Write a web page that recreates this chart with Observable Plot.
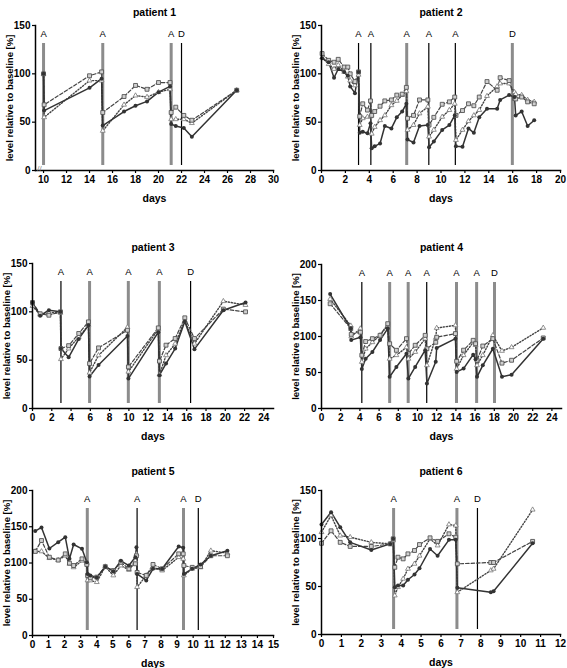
<!DOCTYPE html>
<html>
<head>
<meta charset="utf-8">
<script src="https://cdn.jsdelivr.net/npm/d3@7"></script>
<script src="https://cdn.jsdelivr.net/npm/@observablehq/plot@0.6"></script>
<style>
  html, body { margin: 0; padding: 0; background: #fff; }
  #chart { position: relative; width: 567px; height: 668px; overflow: hidden; background: #fff; }
  .panel { position: absolute; }
</style>
</head>
<body>
<div id="chart"></div>
<script>
// ---------- data ----------
const titles = ["patient 1", "patient 2", "patient 3", "patient 4", "patient 5", "patient 6"];

// patient 1
const p1Days   = [10, 10.05, 14, 15.05, 15.15, 17, 18, 19, 20, 21, 21.1, 21.5, 22.2, 22.9, 26.8];
const p1Solid  = [100, 62, 85.5, 95, 46.5, 61, 67, 71.5, 81, 87, 48, 46, 44, 35, 83];
const p1Dashed = [100, 68, 98, 102, 60, 76.5, 88, 84, 91, 91, 60, 65.5, 57, 52, 83];
const p1Dotted = [100, 55, 93, 93, 41, 68, 77.5, 76, 81, 84, 53, 53, 53, 49, 83];
const p1Events = [10, 15.15, 21.1, 22];
const p1Labels = ["A", "A", "A", "D"];
const p1Gray   = [1, 1, 1, 0];

// patient 2
const p2Days   = [0.05, 0.6, 1.05, 1.4, 1.9, 2.2, 2.4, 2.8, 3.1, 3.2, 3.45, 3.85, 4.1, 4.2, 4.45, 4.9, 5.3, 5.85, 6.3, 6.75, 7.1, 7.2, 7.7, 8.2, 8.9, 9.0, 9.4, 10.1, 10.7, 11.15, 11.25, 11.8, 12.3, 12.75, 13.2, 13.85, 14.7, 14.95, 15.7, 16.15, 16.25, 16.75, 17.25, 17.8];
const p2Solid  = [116, 112, 96, 105, 102, 98, 87, 80, 102, 39, 40, 38.5, 49, 23, 25, 28, 46, 43.5, 55, 61, 69, 32, 29, 46, 47, 24, 30, 42, 47, 57, 25, 24.5, 43.5, 39, 55, 64, 64, 73, 78, 76, 57, 61, 46, 52];
const p2Dashed = [121, 114, 112, 115, 107, 107, 100, 92, 102, 56, 69, 62.5, 72, 57, 61, 66.5, 72, 73, 78, 79, 86, 54, 57, 73, 73, 47, 55, 68.5, 71, 76, 57, 62, 69, 67, 76, 92, 83, 96, 93, 74.5, 74, 76, 71, 69];
const p2Dotted = [117, 110, 105, 109, 102, 97, 93, 88, 99, 47, 54, 55.5, 56, 38, 45, 52, 57, 67.5, 72, 78, 82, 42, 47, 59, 66, 35, 42, 55.5, 62.5, 69, 31.5, 42, 51, 57, 62.5, 77, 87, 90, 90, 81, 79, 78, 73, 71];
const p2Events = [3.1, 4.13, 7.13, 8.98, 11.2, 15.97];
const p2Labels = ["A", "A", "A", "A", "A", "D"];
const p2Gray   = [0, 0, 1, 0, 0, 1];

// patient 3
const p3Days   = [0, 0.8, 1.7, 2.9, 2.95, 3.75, 4.8, 5.8, 5.92, 6.85, 9.85, 9.95, 13.05, 13.17, 13.85, 14.8, 15.8, 16.8, 19.8, 22.1];
const p3Solid  = [109.6, 96, 101.7, 100, 62, 53, 72, 86, 33, 45, 75, 31, 79, 34.5, 46.5, 62, 90, 61.4, 101.7, 109.6];
const p3Dashed = [109.6, 98, 96.5, 100, 62, 65, 77.6, 89.6, 46.5, 62.7, 81, 43, 83.4, 49, 65.5, 72.4, 93.8, 72.4, 102.8, 100];
const p3Dotted = [106, 97, 99, 99, 51, 62, 74, 86, 37, 55, 84, 38, 82, 35, 55, 67, 91, 67, 111, 107];
const p3Events = [2.95, 5.92, 9.94, 13.16, 16.4];
const p3Labels = ["A", "A", "A", "A", "D"];
const p3Gray   = [0, 1, 1, 1, 0];

// patient 4
const p4Days   = [0.9, 3.05, 3.1, 4.05, 4.2, 4.6, 5.3, 6.1, 6.9, 7.1, 7.8, 8.85, 9.05, 9.76, 10.8, 10.98, 11.9, 12.0, 13.95, 14.08, 14.8, 15.8, 16.05, 16.2, 16.8, 17.85, 18.8, 19.8, 23.1];
const p4Solid  = [159, 111, 95, 99, 55, 69, 78.5, 95, 111, 44, 57.7, 76, 41.6, 57.7, 81, 34.6, 65, 84, 97, 50.8, 55.4, 74.8, 68.4, 44, 60, 83, 44, 47, 97];
const p4Dashed = [145.5, 111, 103, 106, 74, 93, 97, 101.6, 117.8, 90, 80.8, 97, 76, 87.8, 101.6, 83, 92, 99, 104, 65.6, 81, 94.7, 90, 67, 86.8, 97, 63, 67, 98];
const p4Dotted = [152, 115, 100, 111, 64.7, 83, 92, 101.6, 115.5, 69, 74, 85, 69, 78.5, 97, 60, 98, 111.8, 115.5, 55, 74, 92, 88, 60, 74, 101.6, 80, 85, 112];
const p4Events = [4.2, 7.1, 9.03, 10.96, 14.06, 16.16, 18.02];
const p4Labels = ["A", "A", "A", "A", "A", "A", "D"];
const p4Gray   = [0, 1, 1, 0, 1, 1, 1];

// patient 5
const p5Days   = [0.17, 0.56, 1.05, 1.6, 2.04, 2.3, 2.56, 3.08, 3.38, 3.43, 3.6, 4.0, 4.53, 5.03, 5.5, 6.0, 6.4, 6.47, 6.51, 7.08, 7.5, 8.07, 9.1, 9.38, 9.42, 9.94, 10.46, 11.1, 12.13];
const p5Solid  = [144, 149, 120, 128.7, 135.6, 105.7, 125.5, 119.5, 101, 85, 82.8, 80, 95, 88.7, 103, 96.5, 108, 121.8, 85, 75.9, 92, 92, 122.8, 121, 85, 92, 98, 110, 117];
const p5Dashed = [116, 131, 108, 104, 112.6, 99.8, 96.5, 105.7, 98, 82.8, 79.5, 80.5, 95, 89.6, 101, 92, 98.9, 110, 87, 82.8, 98, 92, 112.6, 112.6, 96.5, 94, 95, 110, 110];
const p5Dotted = [116, 116, 106.7, 104, 110, 98.9, 94, 103, 100, 75.9, 75.9, 73.6, 95, 82.8, 96.5, 90.6, 103, 112, 66.7, 82.8, 94, 89.6, 108, 105.7, 82.8, 92, 94, 117, 113.6];
const p5Events = [3.41, 6.51, 9.4, 10.32];
const p5Labels = ["A", "A", "A", "D"];
const p5Gray   = [1, 0, 1, 0];

// patient 6
const p6Days   = [0, 0.48, 0.94, 1.44, 2.5, 3.45, 3.6, 3.68, 3.84, 4.1, 4.34, 4.67, 4.92, 5.45, 5.83, 6.4, 6.74, 6.82, 8.5, 8.64, 10.6];
const p6Solid  = [114.6, 127.4, 111.8, 96, 88, 94.4, 99.7, 49.3, 51, 51, 57, 62.5, 69, 89, 82, 98.6, 98.6, 48.6, 44, 45, 95];
const p6Dashed = [95, 108, 96, 91.7, 91.7, 94.4, 99.7, 70, 80.5, 78.8, 84, 87.5, 93.7, 100.7, 97, 104.9, 101.4, 73.6, 75, 75, 97];
const p6Dotted = [106.6, 124, 103, 101.4, 96, 94.4, 98, 40.6, 49.3, 58, 68.4, 73.6, 82, 99.7, 92.7, 114.6, 113.5, 44, 66.7, 68.4, 130];
const p6Events = [3.62, 6.8, 7.83];
const p6Labels = ["A", "A", "D"];
const p6Gray   = [1, 1, 0];

// axis settings
const xDomains = [[9.3, 30], [0, 20], [0, 25], [0, 25], [0, 15], [0, 12]];
const xTickVals = [d3.range(10, 31, 2), d3.range(0, 21, 2), d3.range(0, 25, 2), d3.range(0, 25, 2), d3.range(0, 16, 1), d3.range(0, 13, 1)];
const yMax = [150, 150, 150, 200, 200, 150];
const yTickVals = [[0, 50, 100, 150], [0, 50, 100, 150], [0, 50, 100, 150], [0, 50, 100, 150, 200], [0, 50, 100, 150, 200], [0, 50, 100, 150]];

// ---------- layout (pixels) ----------
const layout = [
  {left: 0,   top: 0,   width: 283, ml: 35, mr: 10, mt: 25, fh: 145, mb: 45, titleDy: -13},
  {left: 283, top: 0,   width: 284, ml: 38, mr: 7,  mt: 25, fh: 145, mb: 45, titleDy: -13},
  {left: 0,   top: 238, width: 283, ml: 32, mr: 10, mt: 25, fh: 145, mb: 45, titleDy: -16},
  {left: 283, top: 239, width: 284, ml: 38, mr: 6,  mt: 25, fh: 144, mb: 45, titleDy: -17},
  {left: 0,   top: 465, width: 283, ml: 32, mr: 10, mt: 25, fh: 145, mb: 33, titleDy: -19},
  {left: 283, top: 465, width: 284, ml: 38, mr: 7,  mt: 25, fh: 144, mb: 34, titleDy: -19}
];

const panels = [
  [p1Days, p1Solid, p1Dashed, p1Dotted, p1Events, p1Labels, p1Gray],
  [p2Days, p2Solid, p2Dashed, p2Dotted, p2Events, p2Labels, p2Gray],
  [p3Days, p3Solid, p3Dashed, p3Dotted, p3Events, p3Labels, p3Gray],
  [p4Days, p4Solid, p4Dashed, p4Dotted, p4Events, p4Labels, p4Gray],
  [p5Days, p5Solid, p5Dashed, p5Dotted, p5Events, p5Labels, p5Gray],
  [p6Days, p6Solid, p6Dashed, p6Dotted, p6Events, p6Labels, p6Gray]
];

const FONT = "'Liberation Sans', Arial, Helvetica, sans-serif";
const chart = document.getElementById("chart");

panels.forEach(([days, solid, dashed, dotted, evDays, evLabels, evGray], k) => {
  const L = layout[k];
  const data = days.map((d, i) => ({day: d, solid: solid[i], dashed: dashed[i], dotted: dotted[i]}));
  const events = evDays.map((d, i) => ({day: d, label: evLabels[i], gray: evGray[i]}));
  const marks = [
    Plot.ruleX(events.filter(e => e.gray), {x: "day", stroke: "#8c8c8c", strokeWidth: 3, insetTop: 18, insetBottom: 5}),
    Plot.ruleX(events.filter(e => !e.gray), {x: "day", stroke: "#000", strokeWidth: 1.2, insetTop: 18, insetBottom: 5}),
    Plot.text(events, {x: "day", text: "label", frameAnchor: "top", lineAnchor: "middle", dy: 8, fontWeight: "normal", fontSize: 9.5, fill: "#000"}),
    Plot.line(data, {x: "day", y: "dotted", stroke: "#444", strokeWidth: 1.4, strokeDasharray: "1.2,1.8"}),
    Plot.line(data, {x: "day", y: "dashed", stroke: "#444", strokeWidth: 1.2, strokeDasharray: "3.5,2"}),
    Plot.line(data, {x: "day", y: "solid", stroke: "#333", strokeWidth: 1.5}),
    Plot.dot(data, {x: "day", y: "dotted", symbol: "triangle", r: 1.8, stroke: "#777", fill: "#fff", strokeWidth: 0.8}),
    Plot.dot(data, {x: "day", y: "dashed", symbol: "square", r: 2.2, stroke: "#555", fill: "#d0d0d0", strokeWidth: 0.9}),
    Plot.dot(data, {x: "day", y: "solid", r: 2, fill: "#333"}),
    Plot.axisX({ticks: xTickVals[k], tickSize: 3, tickPadding: 2, label: null, tickFormat: d => String(d), strokeWidth: 1.2}),
    Plot.axisY({ticks: yTickVals[k], tickSize: 3, tickPadding: 2, label: null, strokeWidth: 1.2}),
    Plot.frame({anchor: "left", stroke: "#000", strokeWidth: 1.5}),
    Plot.frame({anchor: "bottom", stroke: "#000", strokeWidth: 1.5}),
    Plot.text(["days"], {text: d => d, frameAnchor: "bottom", lineAnchor: "middle", dy: 28, fontSize: 10.5}),
    Plot.text(["level relative to baseline [%]"], {text: d => d, frameAnchor: "left", rotate: -90, dx: -26, textAnchor: "middle", lineAnchor: "middle", fontSize: 9.5}),
    Plot.text([titles[k]], {text: d => d, frameAnchor: "top", lineAnchor: "middle", dy: L.titleDy, fontSize: 10.5})
  ];
  if (k === 0) {
    marks.push(Plot.text(["//"], {text: d => d, frameAnchor: "bottom-left", textAnchor: "middle", lineAnchor: "middle", dx: 4, dy: -2, fontSize: 8, fill: "#888", fontWeight: "normal"}));
  }
  const svg = Plot.plot({
    width: L.width,
    height: L.mt + L.fh + L.mb,
    marginLeft: L.ml, marginRight: L.mr, marginTop: L.mt, marginBottom: L.mb,
    x: {domain: xDomains[k]},
    y: {domain: [0, yMax[k]]},
    style: {fontFamily: FONT, fontSize: "10px", fontWeight: "bold", background: "transparent", color: "#000", overflow: "visible"},
    marks
  });
  const div = document.createElement("div");
  div.className = "panel";
  div.style.left = L.left + "px";
  div.style.top = L.top + "px";
  div.appendChild(svg);
  chart.appendChild(div);
});
</script>
</body>
</html>
